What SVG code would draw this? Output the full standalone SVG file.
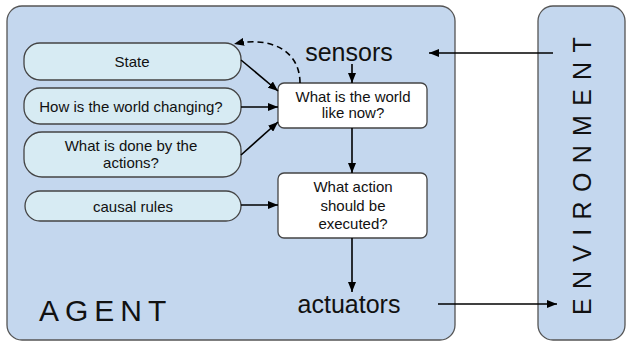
<svg xmlns="http://www.w3.org/2000/svg" width="629" height="342" viewBox="0 0 629 342">
<defs>
<style>
.t{font-family:"Liberation Sans",Arial,sans-serif;fill:#111;text-anchor:middle}
.s{font-size:15px}
.big{font-size:25px}
.pill{fill:#d7ebf3;stroke:#444;stroke-width:1.3}
.wb{fill:#ffffff;stroke:#444;stroke-width:1.3}
.frame{fill:#c4d7ee;stroke:#555;stroke-width:1.3}
.c{stroke:#000;stroke-width:1.6;fill:none}
</style>
<marker id="ah" viewBox="0 0 10 8" markerWidth="10" markerHeight="8" refX="10" refY="4" orient="auto" markerUnits="userSpaceOnUse">
<path d="M0,0 L10,4 L0,8 z" fill="#000"/>
</marker>
</defs>
<rect width="629" height="342" fill="#ffffff"/>
<g id="agent">
<rect class="frame" x="7" y="6" width="448" height="334" rx="15"/>
<text class="t" x="39" y="321" style="font-size:30px;text-anchor:start;letter-spacing:6px">AGENT</text>
</g>
<g id="environment">
<rect class="frame" x="538" y="6" width="87" height="334" rx="15"/>
<text class="t" transform="translate(591,315) rotate(-90)" style="font-size:25px;text-anchor:start;letter-spacing:9.3px">ENVIRONMENT</text>
</g>
<g id="sensors"><text class="t big" x="349" y="61">sensors</text></g>
<g id="actuators"><text class="t big" x="349" y="313">actuators</text></g>
<g id="state">
<rect class="pill" x="24" y="43" width="217" height="37" rx="16"/>
<text class="t s" x="132" y="67">State</text>
</g>
<g id="changing">
<rect class="pill" x="24" y="88" width="217" height="36" rx="16"/>
<text class="t s" x="131" y="112">How is the world changing?</text>
</g>
<g id="done">
<rect class="pill" x="24" y="132" width="217" height="45" rx="18"/>
<text class="t s" x="131" y="151">What is done by the</text>
<text class="t s" x="131" y="168">actions?</text>
</g>
<g id="causal">
<rect class="pill" x="25" y="191" width="216" height="30" rx="15"/>
<text class="t s" x="133" y="212">causal rules</text>
</g>
<g id="world">
<rect class="wb" x="278" y="83" width="149" height="45" rx="6"/>
<text class="t s" x="353" y="102">What is the world</text>
<text class="t s" x="353" y="118">like now?</text>
</g>
<g id="action">
<rect class="wb" x="278" y="173" width="149" height="65" rx="6"/>
<text class="t s" x="353" y="192">What action</text>
<text class="t s" x="353" y="211">should be</text>
<text class="t s" x="353" y="229">executed?</text>
</g>
<g id="connectors">
<path class="c" d="M241,60 L278,91" marker-end="url(#ah)"/>
<path class="c" d="M241,107 L278,107" marker-end="url(#ah)"/>
<path class="c" d="M241,155 L278,122" marker-end="url(#ah)"/>
<path class="c" d="M352,64 L352,83" marker-end="url(#ah)"/>
<path class="c" d="M352,128 L352,173" marker-end="url(#ah)"/>
<path class="c" d="M241,205 L278,205" marker-end="url(#ah)"/>
<path class="c" d="M352,238 L352,292" marker-end="url(#ah)"/>
<path class="c" d="M553,53 L429,53" marker-end="url(#ah)"/>
<path class="c" d="M438,304 L557,304" marker-end="url(#ah)"/>
<path class="c" d="M300,83 C300,50 270,36 234,44" stroke-dasharray="6,4" marker-end="url(#ah)"/>
</g>
</svg>
